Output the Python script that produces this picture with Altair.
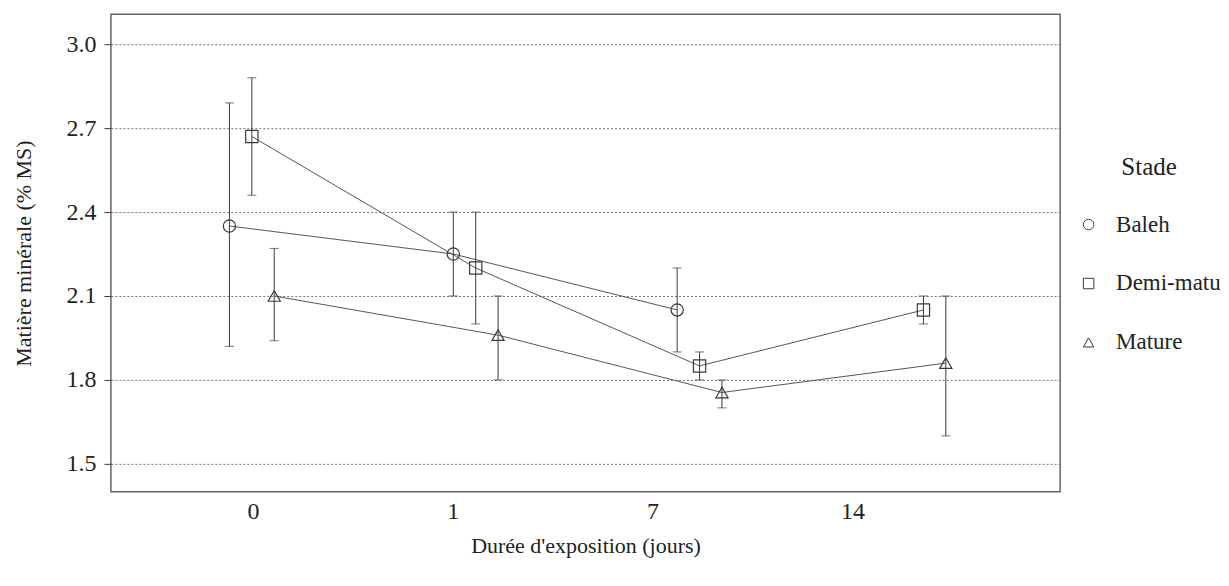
import altair as alt
import pandas as pd

days = ["0", "1", "7", "14"]
stades = ["Baleh", "Demi-matu", "Mature"]

baleh_mean = [2.35, 2.25, 2.05, None]
baleh_lo = [1.92, 2.10, 1.90, None]
baleh_hi = [2.79, 2.40, 2.20, None]

demi_mean = [2.67, 2.20, 1.85, 2.05]
demi_lo = [2.46, 2.00, 1.80, 2.00]
demi_hi = [2.88, 2.40, 1.90, 2.10]

mature_mean = [2.10, 1.96, 1.755, 1.86]
mature_lo = [1.94, 1.80, 1.70, 1.60]
mature_hi = [2.27, 2.10, 1.80, 2.10]

y_ticks = [1.5, 1.8, 2.1, 2.4, 2.7, 3.0]

rows = []
for name, m, lo, hi in [("Baleh", baleh_mean, baleh_lo, baleh_hi),
                        ("Demi-matu", demi_mean, demi_lo, demi_hi),
                        ("Mature", mature_mean, mature_lo, mature_hi)]:
    for i, d in enumerate(days):
        if m[i] is None:
            continue
        rows.append({"jour": d, "ordre": i, "stade": name,
                     "moy": m[i], "bas": lo[i], "haut": hi[i]})
df = pd.DataFrame(rows)
df_days = pd.DataFrame({"jour": days})

FONT = "Liberation Serif"
INK = "#3a3a3a"
TXT = "#222222"

x_enc = alt.X("jour:N", scale=alt.Scale(domain=days, paddingInner=0.7, paddingOuter=0.47, align=0.51), axis=None)
xo_enc = alt.XOffset("stade:N", scale=alt.Scale(domain=stades, paddingInner=0, paddingOuter=0))
y_scale = alt.Scale(domain=[1.4, 3.107], nice=False, zero=False)

base = alt.Chart(df)

lines = base.mark_line(color="#555555", strokeWidth=1).encode(
    x=x_enc, xOffset=xo_enc,
    y=alt.Y("moy:Q", scale=y_scale,
            axis=alt.Axis(title="Matière minérale (% MS)", values=y_ticks, format=".1f",
                          grid=True, gridDash=[2, 2], gridColor="#777777", gridWidth=1,
                          tickSize=7, tickColor=INK, labelPadding=8, domain=False,
                          titlePadding=30, labelFont=FONT, titleFont=FONT,
                          labelFontSize=24, titleFontSize=22, titleFontWeight="normal",
                          labelColor=TXT, titleColor=TXT)),
    detail="stade:N",
    order=alt.Order("ordre:Q"),
)

bars = base.mark_rule(color=INK, strokeWidth=1).encode(
    x=x_enc, xOffset=xo_enc,
    y=alt.Y("bas:Q", scale=y_scale), y2="haut:Q",
)

caps_lo = base.mark_tick(color=INK, size=9, thickness=1).encode(
    x=x_enc, xOffset=xo_enc, y=alt.Y("bas:Q", scale=y_scale))
caps_hi = base.mark_tick(color=INK, size=9, thickness=1).encode(
    x=x_enc, xOffset=xo_enc, y=alt.Y("haut:Q", scale=y_scale))

points = base.mark_point(filled=False, color=INK, strokeWidth=1.2, size=150, opacity=1).encode(
    x=x_enc, xOffset=xo_enc,
    y=alt.Y("moy:Q", scale=y_scale),
    shape=alt.Shape("stade:N",
                    scale=alt.Scale(domain=stades, range=["circle", "square", "triangle-up"]),
                    legend=alt.Legend(title="Stade", orient="none", legendX=967, legendY=141,
                                      titleAnchor="middle", titlePadding=33, rowPadding=35,
                                      symbolSize=110, symbolStrokeWidth=1, symbolStrokeColor=INK,
                                      symbolFillColor="transparent", labelOffset=16,
                                      labelFont=FONT, titleFont=FONT, labelFontSize=23,
                                      titleFontSize=25, titleFontWeight="normal",
                                      labelColor=TXT, titleColor=TXT)),
)

data_layer = alt.layer(lines, bars, caps_lo, caps_hi, points)

label_layer = alt.Chart(df_days).mark_point(opacity=0).encode(
    x=alt.X("jour:N", scale=alt.Scale(type="point", domain=days, padding=0.875, align=0.406),
            axis=alt.Axis(title="Durée d'exposition (jours)", labelAngle=0, ticks=False,
                          domain=False, labelPadding=8, titlePadding=12,
                          labelFont=FONT, titleFont=FONT, labelFontSize=24, titleFontSize=22,
                          titleFontWeight="normal", labelColor=TXT, titleColor=TXT)),
    y=alt.value(0),
)

chart = alt.layer(data_layer, label_layer).resolve_scale(x="independent").properties(
    width=950, height=478,
    padding={"left": 5, "top": 3, "right": 0, "bottom": 5},
).configure(font=FONT).configure_view(stroke="#666666", strokeWidth=1.5)

chart.save("out.html", embed_options={"renderer": "svg", "actions": False})
